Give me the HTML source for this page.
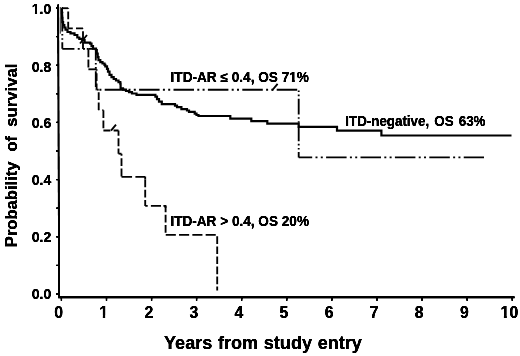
<!DOCTYPE html>
<html><head><meta charset="utf-8">
<style>
html,body{margin:0;padding:0;background:#fff;}
body{width:520px;height:356px;overflow:hidden;}
svg{display:block;}
text{font-family:"Liberation Sans",Arial,Helvetica,sans-serif;font-weight:bold;fill:#000;}
.ax{stroke:#000;stroke-width:2;fill:none;}
.tk{stroke:#000;stroke-width:1.3;fill:none;}
.d{stroke-width:2.35;}
.ck{stroke:#000;stroke-width:1.9;fill:none;}
.c{stroke:#000;stroke-width:1.85;fill:none;stroke-linejoin:miter;}
.yl{font-size:14px;text-anchor:end;}
.xl{font-size:15.8px;text-anchor:middle;}
.lg{font-size:13.8px;}
</style></head><body>
<svg width="520" height="356" viewBox="0 0 520 356">
<defs><filter id="b" x="-10%" y="-10%" width="120%" height="120%" color-interpolation-filters="sRGB"><feGaussianBlur stdDeviation="0.45"/><feComponentTransfer><feFuncA type="linear" slope="1.9" intercept="0"/></feComponentTransfer></filter><filter id="s" x="-5%" y="-5%" width="110%" height="110%" color-interpolation-filters="sRGB"><feGaussianBlur stdDeviation="0.38"/></filter></defs>
<rect width="520" height="356" fill="#fff"/>
<g filter="url(#b)">
<path class="ax" d="M58.2,4.4L59.0,298" style="stroke-width:1.6"/><path class="ax" d="M58.2,297.25H514.5" style="stroke-width:1.9"/>
<path class="tk" d="M56.2,294.0H59 M56.2,265.4H59 M56.2,236.8H59 M56.2,208.2H59 M56.2,179.6H59 M56.2,151.0H59 M56.2,122.4H59 M56.2,93.8H59 M56.2,65.2H59 M56.2,36.6H59 M56.2,8.0H59"/>
<path d="M60.3,7V33.7" stroke="#333" stroke-width="0.55" fill="none"/>
<path class="tk" d="M61.4,297V300.8 M106.5,297V300.8 M151.6,297V300.8 M196.6,297V300.8 M241.7,297V300.8 M286.8,297V300.8 M331.9,297V300.8 M377.0,297V300.8 M422.0,297V300.8 M467.1,297V300.8 M512.2,297V300.8"/>
<text class="yl" x="51.3" y="13.6">1.0</text>
<text class="yl" x="51.3" y="71.8">0.8</text>
<text class="yl" x="51.3" y="127.7">0.6</text>
<text class="yl" x="51.3" y="185">0.4</text>
<text class="yl" x="51.3" y="241.8">0.2</text>
<text class="yl" x="51.3" y="299.4">0.0</text>
<text class="xl" x="58.6" y="317.9">0</text>
<text class="xl" x="103.7" y="317.9">1</text>
<text class="xl" x="148.8" y="317.9">2</text>
<text class="xl" x="193.8" y="317.9">3</text>
<text class="xl" x="238.9" y="317.9">4</text>
<text class="xl" x="284.0" y="317.9">5</text>
<text class="xl" x="329.1" y="317.9">6</text>
<text class="xl" x="374.2" y="317.9">7</text>
<text class="xl" x="419.2" y="317.9">8</text>
<text class="xl" x="464.3" y="317.9">9</text>
<text class="xl" x="509.4" y="317.9">10</text>
<text id="xt" x="164" y="348.5" style="font-size:18.1px;word-spacing:0.6px">Years from study entry</text>
<g transform="translate(17.4,0) rotate(-90)" style="font-size:16.6px"><text id="yt" x="-247.2" y="0">Probability</text><text x="-151.6" y="0">of</text><text x="-126.8" y="0" textLength="63.3" lengthAdjust="spacing">survival</text></g>
<path fill="#fff" d="M31.4,11.4h3.55v3h-3.55z M37.05,11.4h2.6v3h-2.6z M99.4,315.4h3.45v3h-3.45z M105.15,315.4h3.4v3h-3.4z M500.4,315.4h3.5v3h-3.5z M506.9,315.4h2.8v3h-2.8z"/>
</g>
<g filter="url(#s)">
<path class="c" style="stroke-width:2.2" transform="translate(0,0.2)" d="M61.8,8H61.9V13H62.1V18H62.4V22H63.1V25H64.3V27.3H65.5V29.5H67.5V31.8H70.5V33.2H74.5V34.8H77.3V37.3H79.3V38.7H82.3V40H84.6V42.5H90.2V43.5H91.5V46H93V48.4H96V49.8H96.8V53.5H97.7V57H98.5V60H100.3V62H102.5V63.3H104.5V64.6H105.3V66.2H107V68.6H108V71.5H109.5V74.6H111.5V77H113.7V78.8H116V80.3H118.5V82H120.3V83.4H120.6V88.2H123V89.5H126V90.8H129V92H132V93.3H136.5V94.6H155.4V96.5H157V99H159V101.5H161.8V104H175V105.5H177V107H181.4V109H187V110.3H189V111.6H194.7V113.5H196.5V114.8H198.5V115.8H230.3V118.5H251.3V121H267.3V123.4H298.7V126.7H337V130.4H381.4V135.3H511.5V135.3"/>
<path class="c" d="M62.3,8.0L62.3,48.8" stroke-dasharray="15.91 2.56 1.55 2.56 1.55 2.56" stroke-dashoffset="19.09"/>
<path class="c" d="M62.3,48.8L95.8,48.8" stroke-dasharray="20.50 3.30 2.00 3.30 2.00 3.30" stroke-dashoffset="8.38"/>
<path class="c" d="M95.8,48.8L95.8,89.7" stroke-dasharray="15.91 2.56 1.55 2.56 1.55 2.56" stroke-dashoffset="4.29"/>
<path class="c" d="M95.8,89.7L298.7,89.7" stroke-dasharray="20.50 3.30 2.00 3.30 2.00 3.30" stroke-dashoffset="25.50"/>
<path class="c" d="M298.7,89.7L298.7,157.4" stroke-dasharray="15.91 2.56 1.55 2.56 1.55 2.56" stroke-dashoffset="17.69"/>
<path class="c" d="M298.7,157.4L484.0,157.4" stroke-dasharray="20.51 3.30 2.00 3.30 2.00 3.30" stroke-dashoffset="7.02"/>
<path class="c d" d="M61.8,8.2L68.2,8.2" stroke-dasharray="10.10 3.20" stroke-dashoffset="0.00"/>
<path class="c d" d="M68.2,8.2L68.2,28.4" stroke-dasharray="7.84 2.48" stroke-dashoffset="7.04"/>
<path class="c d" d="M68.2,28.4L83.0,28.4" stroke-dasharray="10.10 3.20" stroke-dashoffset="5.50"/>
<path class="c d" d="M83.0,28.4L83.0,48.9" stroke-dasharray="7.84 2.48" stroke-dashoffset="7.52"/>
<path class="c d" d="M83.0,48.9L88.4,48.9" stroke-dasharray="10.10 3.20" stroke-dashoffset="9.51"/>
<path class="c d" d="M88.4,48.9L88.4,69.3" stroke-dasharray="7.84 2.48" stroke-dashoffset="9.92"/>
<path class="c d" d="M88.4,69.3L96.6,69.3" stroke-dasharray="10.10 3.20" stroke-dashoffset="0.00"/>
<path class="c d" d="M96.6,69.3L96.6,89.7" stroke-dasharray="7.84 2.48" stroke-dashoffset="6.36"/>
<path class="c d" d="M96.6,89.7L98.7,89.7" stroke-dasharray="10.10 3.20" stroke-dashoffset="7.89"/>
<path class="c d" d="M98.7,89.7L98.7,110.1" stroke-dasharray="7.84 2.48" stroke-dashoffset="7.74"/>
<path class="c d" d="M98.7,110.1L103.4,110.1" stroke-dasharray="10.10 3.20" stroke-dashoffset="9.66"/>
<path class="c d" d="M103.4,110.1L103.4,130.5" stroke-dasharray="7.84 2.48" stroke-dashoffset="10.22"/>
<path class="c d" d="M103.4,130.5L118.5,130.5" stroke-dasharray="10.10 3.20" stroke-dashoffset="3.10"/>
<path class="c d" d="M118.5,130.5L118.5,153.7" stroke-dasharray="7.84 2.48" stroke-dashoffset="2.52"/>
<path class="c d" d="M118.5,153.7L121.5,153.7" stroke-dasharray="10.10 3.20" stroke-dashoffset="6.55"/>
<path class="c d" d="M121.5,153.7L121.5,176.8" stroke-dasharray="7.84 2.48" stroke-dashoffset="5.74"/>
<path class="c d" d="M121.5,176.8L145.2,176.8" stroke-dasharray="10.56 3.34" stroke-dashoffset="0.00"/>
<path class="c d" d="M145.2,176.8L145.2,205.9" stroke-dasharray="7.84 2.48" stroke-dashoffset="7.74"/>
<path class="c d" d="M145.2,205.9L165.6,205.9" stroke-dasharray="10.10 3.20" stroke-dashoffset="7.60"/>
<path class="c d" d="M165.6,205.9L165.6,234.8" stroke-dasharray="7.84 2.48" stroke-dashoffset="1.52"/>
<path class="c d" d="M165.6,234.8L217.2,234.8" stroke-dasharray="10.10 3.20" stroke-dashoffset="13.15"/>
<path class="c d" d="M217.2,234.8L217.2,290.6" stroke-dasharray="7.63 2.42" stroke-dashoffset="8.50"/>
<path class="c d" d="M145.2,176.8V179.6 M163.4,205.9H165.5V208"/>
<path class="ck" d="M87,35 L80,43.5 M277.6,83.9 L272,90.5 M116,124.7 L111,130.6"/>
</g>
<g filter="url(#b)">
<text class="lg" id="l1" x="170.6" y="81.5" textLength="138.3" lengthAdjust="spacingAndGlyphs">ITD-AR ≤ 0.4, OS 71%</text>
<text class="lg" id="l2" x="345.3" y="126" style="word-spacing:1.5px" textLength="140.2" lengthAdjust="spacingAndGlyphs">ITD-negative, OS 63%</text>
<text class="lg" id="l3" x="170.4" y="225.7" textLength="138.6" lengthAdjust="spacingAndGlyphs">ITD-AR &gt; 0.4, OS 20%</text>
<path fill="#fff" d="M289.3,79.8h2.6v2.8h-2.6z M294.9,79.8h2.7v2.8h-2.7z"/>
</g>
</svg>
</body></html>
